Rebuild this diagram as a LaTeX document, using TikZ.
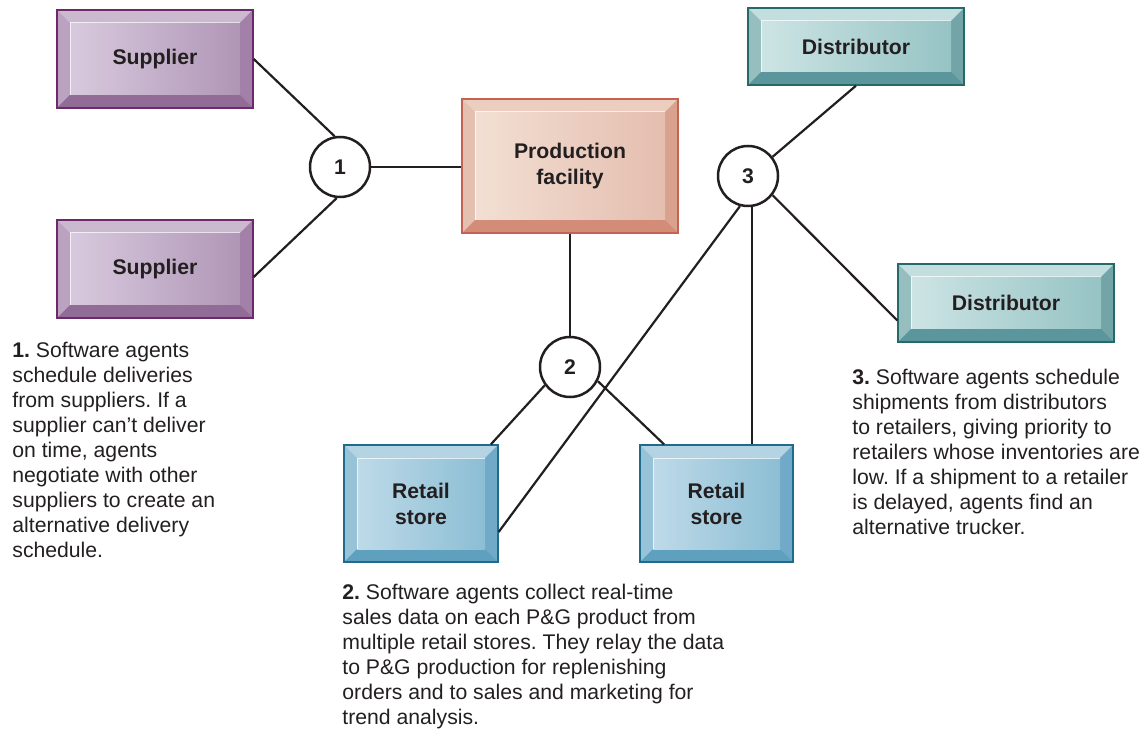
\documentclass[tikz,border=0pt]{standalone}
\usepackage{fontspec}
\setmainfont{Liberation Sans}
\usetikzlibrary{calc,positioning}
\frenchspacing
\definecolor{ink}{RGB}{35,31,32}
\definecolor{supEdge}{RGB}{108,42,108}
\definecolor{supTop}{RGB}{203,185,208}
\definecolor{supLeft}{RGB}{186,162,192}
\definecolor{supBot}{RGB}{145,108,150}
\definecolor{supRight}{RGB}{162,128,168}
\definecolor{supInA}{RGB}{216,202,222}
\definecolor{supInB}{RGB}{176,150,182}
\definecolor{prodEdge}{RGB}{198,98,84}
\definecolor{prodTop}{RGB}{236,206,192}
\definecolor{prodLeft}{RGB}{228,192,176}
\definecolor{prodBot}{RGB}{210,140,120}
\definecolor{prodRight}{RGB}{216,162,142}
\definecolor{prodInA}{RGB}{242,223,211}
\definecolor{prodInB}{RGB}{228,190,175}
\definecolor{shopEdge}{RGB}{32,106,140}
\definecolor{shopTop}{RGB}{180,212,228}
\definecolor{shopLeft}{RGB}{150,195,215}
\definecolor{shopBot}{RGB}{95,160,190}
\definecolor{shopRight}{RGB}{112,170,200}
\definecolor{shopInA}{RGB}{190,218,232}
\definecolor{shopInB}{RGB}{140,190,212}
\definecolor{distEdge}{RGB}{36,106,106}
\definecolor{distTop}{RGB}{195,222,222}
\definecolor{distLeft}{RGB}{150,190,190}
\definecolor{distBot}{RGB}{90,150,155}
\definecolor{distRight}{RGB}{115,165,168}
\definecolor{distInA}{RGB}{205,228,228}
\definecolor{distInB}{RGB}{150,195,196}

\begin{document}
\begin{tikzpicture}[x=0.5pt,y=-0.5pt,
  every node/.style={text=ink,font=\fontsize{10.6}{13}\selectfont},
  bevelbox/.style={draw=#1Edge,line width=0.7pt,inner sep=0pt,align=center,
    font=\fontsize{10.6}{13}\selectfont\bfseries,
    path picture={
      \path (path picture bounding box.north west) coordinate (bNW)
            (path picture bounding box.north east) coordinate (bNE)
            (path picture bounding box.south east) coordinate (bSE)
            (path picture bounding box.south west) coordinate (bSW);
      \path ($(bNW)+(6.5pt,-6.5pt)$) coordinate (iNW)
            ($(bNE)+(-6.5pt,-6.5pt)$) coordinate (iNE)
            ($(bSE)+(-6.5pt,6.5pt)$) coordinate (iSE)
            ($(bSW)+(6.5pt,6.5pt)$) coordinate (iSW);
      \fill[#1Left] (bNW) rectangle (bSE);
      \fill[#1Top] (bNW) -- (bNE) -- (iNE) -- (iNW) -- cycle;
      \fill[#1Right] (bNE) -- (bSE) -- (iSE) -- (iNE) -- cycle;
      \fill[#1Bot] (bSW) -- (bSE) -- (iSE) -- (iSW) -- cycle;
      \shade[left color=#1InA,right color=#1InB] (iSW) rectangle (iNE);
      \draw[white,opacity=0.7,line width=0.5pt] (iSW) -- (iNW) -- (iNE);
    }},
  hub/.style={circle,draw=ink,line width=1.25pt,fill=white,minimum size=30pt,inner sep=0pt,
    font=\fontsize{10.6}{13}\selectfont\bfseries},
  link/.style={draw=ink,line width=1.1pt},
  note/.style={anchor=north west,align=left,inner sep=0pt,font=\fontsize{10.6}{12.5}\selectfont}]
  \useasboundingbox (0,0) rectangle (1144,732);

  % boxes
  \node[bevelbox=sup,minimum width=98pt,minimum height=49pt] (sup1) at (155,59) {\raisebox{-1pt}{Supplier}};
  \node[bevelbox=sup,minimum width=98pt,minimum height=49pt] (sup2) at (155,269) {\raisebox{-1pt}{Supplier}};
  \node[bevelbox=prod,minimum width=108pt,minimum height=67pt] (prod) at (570,166) {Production\\facility};
  \node[bevelbox=dist,minimum width=108pt,minimum height=38.5pt] (dist1) at (856,46.5) {\raisebox{-1pt}{Distributor}};
  \node[bevelbox=dist,minimum width=108pt,minimum height=39pt] (dist2) at (1006,303) {\raisebox{-1pt}{Distributor}};
  \node[bevelbox=shop,minimum width=77pt,minimum height=58.5pt] (shop1) at (421,503.5) {Retail\\store};
  \node[bevelbox=shop,minimum width=76.5pt,minimum height=58.5pt] (shop2) at (716.5,503.5) {Retail\\store};

  % numbered hubs
  \node[hub] (c1) at (340,167) {1};
  \node[hub] (c2) at (570,367) {2};
  \node[hub] (c3) at (748,176) {3};

  % connectors
  \draw[link] (sup1.east) -- (c1.100);
  \draw[link] ($(sup2.east)+(0,8)$) -- (c1.264);
  \draw[link] (c1.east) -- (c1.east -| prod.west);
  \draw[link] (prod.south) -- (c2.north);
  \draw[link] (c2.216) -- ($(shop1.north west)!0.95!(shop1.north east)$);
  \draw[link] (c2.333) -- ($(shop2.north west)!0.16!(shop2.north east)$);
  \draw[link] (c3.38) -- (dist1.south);
  \draw[link] (c3.255) -- ($(shop1.north east)!0.74!(shop1.south east)$);
  \draw[link] (c3.278) -- (c3.278 |- shop2.north);
  \draw[link] (c3.322) -- ($(dist2.north west)!0.72!(dist2.south west)$);

  % notes
  \node[note] (n1) at (12,342) {\textbf{1.} Software agents\\schedule deliveries\\from suppliers. If a\\supplier can’t deliver\\on time, agents\\negotiate with other\\suppliers to create an\\alternative delivery\\schedule.};
  \node[note] (n2) at (342,584) {\textbf{2.} Software agents collect real-time\\sales data on each P\&G product from\\multiple retail stores. They relay the data\\to P\&G production for replenishing\\orders and to sales and marketing for\\trend analysis.};
  \node[note] (n3) at (852,369) {\textbf{3.} Software agents schedule\\shipments from distributors\\to retailers, giving priority to\\retailers whose inventories are\\low. If a shipment to a retailer\\is delayed, agents find an\\alternative trucker.};
\end{tikzpicture}
\end{document}
